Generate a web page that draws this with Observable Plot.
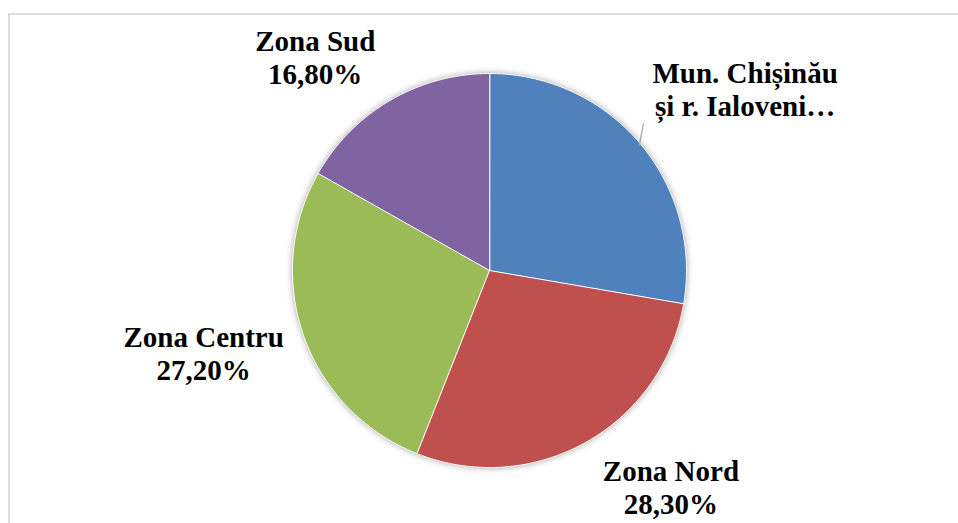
<!DOCTYPE html>
<html>
<head>
<meta charset="utf-8">
<script src="https://cdn.jsdelivr.net/npm/d3@7"></script>
<script src="https://cdn.jsdelivr.net/npm/@observablehq/plot@0.6"></script>
<style>
  html, body { margin: 0; padding: 0; background: #fff; overflow: hidden; }
  #wrap { position: relative; width: 958px; height: 523px; }
  #border { position: absolute; left: 8px; top: 13px; width: 1200px; height: 1200px;
            border: 2px solid #dcdcdc; box-sizing: border-box; }
  #chart { position: absolute; left: 0; top: 0; }
  #chart svg [aria-label="line"] { filter: drop-shadow(0px 0px 3px rgba(0,0,0,0.35)); }
</style>
</head>
<body>
<div id="wrap"><div id="border"></div><div id="chart"></div></div>
<script>
// ---- data ----
const categories = ["Mun. Chișinău și r. Ialoveni", "Zona Nord", "Zona Centru", "Zona Sud"];
const values = [27.7, 28.3, 27.2, 16.8];
const labelTexts = ["Mun. Chișinău\nși r. Ialoveni…", "Zona Nord\n28,30%", "Zona Centru\n27,20%", "Zona Sud\n16,80%"];
const colors = ["#4f81bd", "#c0504d", "#9bbb59", "#8064a2"];

// ---- layout (label nudges in radius units) ----
const labelNudgeX = [0.533, 0.431, -0.508, -0.381];
const labelNudgeY = [0.279, -0.228, -0.086, 0.218];
const leaderIndex = [0];

const arcs = d3.pie().sort(null).value(d => d)(values);
const slicePts = [];
arcs.forEach((a, i) => {
  slicePts.push({name: categories[i], x: 0, y: 0});
  const n = Math.max(2, Math.ceil((a.endAngle - a.startAngle) / (Math.PI / 360)));
  for (let k = 0; k <= n; k++) {
    const t = a.startAngle + (a.endAngle - a.startAngle) * k / n;
    slicePts.push({name: categories[i], x: Math.sin(t), y: Math.cos(t)});
  }
});
const labels = arcs.map((a, i) => {
  const m = (a.startAngle + a.endAngle) / 2;
  return {text: labelTexts[i], x: Math.sin(m) + labelNudgeX[i], y: Math.cos(m) + labelNudgeY[i]};
});
const leaders = leaderIndex.map(i => {
  const m = (arcs[i].startAngle + arcs[i].endAngle) / 2;
  return {x1: 0.995 * Math.sin(m), y1: 0.985 * Math.cos(m), x2: Math.sin(m) + 0.017, y2: Math.cos(m) + 0.102};
});

const chart = Plot.plot({
  width: 958,
  height: 523,
  margin: 0,
  x: {domain: [-1, 1], range: [292, 686], axis: null},
  y: {domain: [-1, 1], range: [467, 73], axis: null},
  color: {domain: categories, range: colors},
  style: {background: "transparent", overflow: "visible", fontFamily: "Liberation Serif, Times New Roman, serif"},
  marks: [
    Plot.line(slicePts, {x: "x", y: "y", z: "name", fill: "name", stroke: "#ffffff", strokeWidth: 1, curve: "linear-closed"}),
    Plot.link(leaders, {x1: "x1", y1: "y1", x2: "x2", y2: "y2", stroke: "#a6a6a6", strokeWidth: 1.3}),
    Plot.text(labels, {x: "x", y: "y", text: "text", fontSize: 29, fontWeight: "bold",
      fontFamily: "Liberation Serif, Times New Roman, serif", fill: "#000",
      textAnchor: "middle", lineAnchor: "middle", lineHeight: 1.14})
  ]
});
document.getElementById("chart").appendChild(chart);
</script>
</body>
</html>
